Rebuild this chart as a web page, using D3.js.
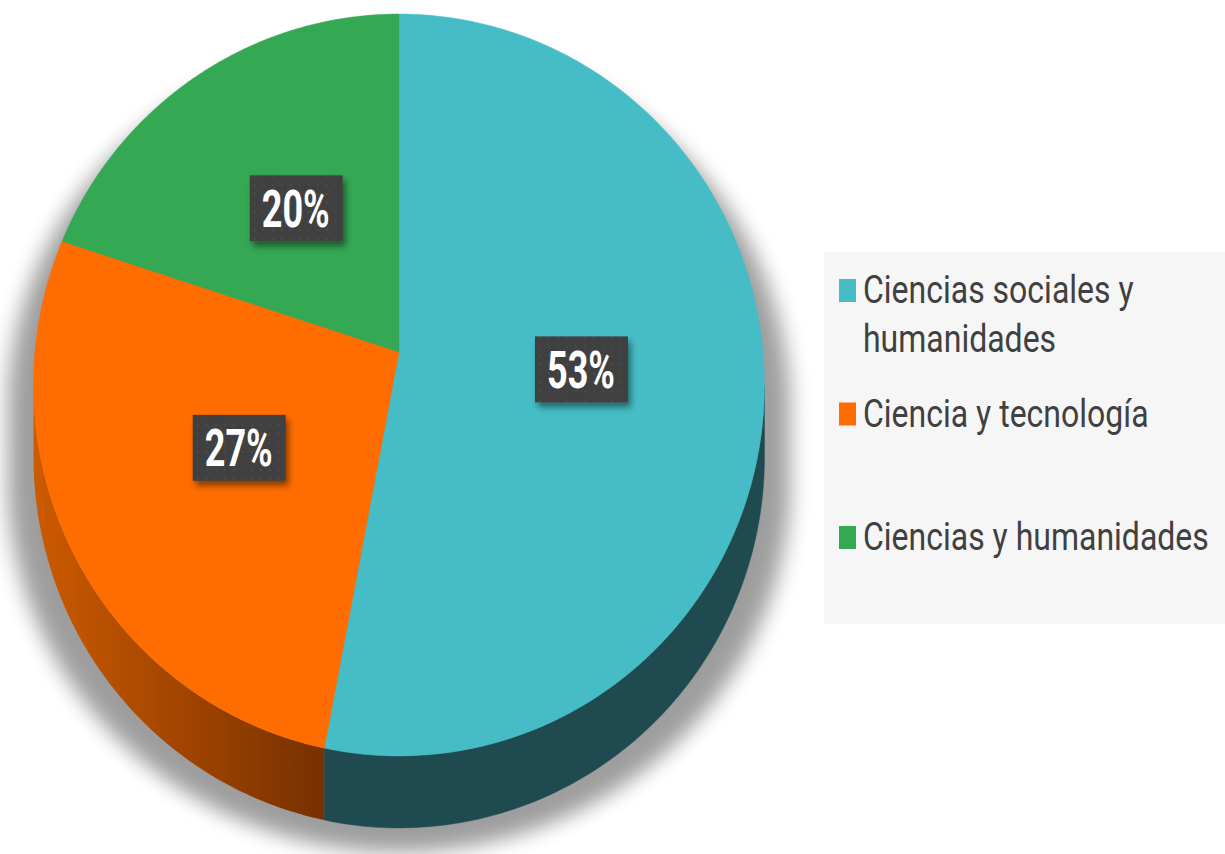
<!DOCTYPE html>
<html>
<head>
<meta charset="utf-8">
<script src="https://cdn.jsdelivr.net/npm/d3@7"></script>
<style>
  html, body { margin: 0; padding: 0; background: #fff; }
  svg { display: block; }
</style>
</head>
<body>
<svg id="chart"></svg>
<script>
// Chart data
const categories = ["Ciencias sociales y humanidades", "Ciencia y tecnología", "Ciencias y humanidades"];
const values = [53, 27, 20];
const palette = ["#46bdc6", "#ff6d01", "#34a853"];

const W = 1225, H = 854;

// 3D pie geometry (perspective-tilted disc)
const cx = 399, cy = 352;
const A = 364, B = 368, k = 0.0889;
const depth = 72;

const svg = d3.select("#chart").attr("width", W).attr("height", H);
const defs = svg.append("defs");

const color = d3.scaleOrdinal().domain(categories).range(palette);
const sideColor = d3.scaleOrdinal().domain(categories).range(["#1e4a50", "#a04600", "#1f5e30"]);

// rim point at angle t (clockwise from 12 o'clock), radius fraction r, drop dz
function proj(t, r, dz) {
  const u = r * Math.sin(t), v = -r * Math.cos(t);
  const w = 1 - k * v;
  return [cx + (A * u) / w, cy + (B * v) / w + (dz || 0)];
}

function rim(a0, a1, dz) {
  const n = Math.max(2, Math.ceil((a1 - a0) / 0.01));
  return d3.range(n + 1).map((i) => proj(a0 + ((a1 - a0) * i) / n, 1, dz));
}

const pie = d3.pie().sort(null).value((d) => d)(values);

// silhouette angles (right-most and left-most rim points)
const probe = d3.range(0, 2 * Math.PI, 0.002);
const tRight = probe[d3.maxIndex(probe, (t) => proj(t, 1)[0])];
const tLeft = probe[d3.minIndex(probe, (t) => proj(t, 1)[0])];

const line = d3.line();

// shadow
const shadowF = defs.append("filter").attr("id", "pieShadow")
  .attr("x", "-20%").attr("y", "-20%").attr("width", "140%").attr("height", "140%");
shadowF.append("feGaussianBlur").attr("stdDeviation", 10);

const shadow = svg.append("g")
  .attr("filter", "url(#pieShadow)")
  .attr("transform", `translate(${cx},${cy + 24}) scale(1.07,1) translate(${-cx},${-cy})`)
  .attr("fill", "#000").attr("opacity", 0.38);
shadow.append("path").attr("d", line(rim(0, 2 * Math.PI, 0)) + "Z");
shadow.append("path").attr("d", line(rim(0, 2 * Math.PI, depth)) + "Z");
shadow.append("path").attr("d", line(rim(tRight, tLeft, 0).concat(rim(tRight, tLeft, depth).reverse())) + "Z");

// side gradients
const gradOrange = defs.append("linearGradient").attr("id", "sideOrange")
  .attr("gradientUnits", "userSpaceOnUse").attr("x1", 35).attr("x2", 325).attr("y1", 0).attr("y2", 0);
gradOrange.append("stop").attr("offset", 0).attr("stop-color", "#cc5a00");
gradOrange.append("stop").attr("offset", 1).attr("stop-color", "#773000");

// sides
const sides = svg.append("g");
pie.forEach((p, i) => {
  const a0 = Math.max(p.startAngle, tRight);
  const a1 = Math.min(p.endAngle, tLeft);
  if (a1 <= a0) return;
  const pts = rim(a0, a1, 0).concat(rim(a0, a1, depth).reverse());
  sides.append("path")
    .attr("d", line(pts) + "Z")
    .attr("fill", i === 1 ? "url(#sideOrange)" : sideColor(categories[i]))
    .attr("stroke", i === 1 ? "none" : sideColor(categories[i]))
    .attr("stroke-width", 0.5);
});

// top faces
svg.append("g")
  .selectAll("path")
  .data(pie)
  .join("path")
  .attr("d", (p) => line([[cx, cy]].concat(rim(p.startAngle, p.endAngle, 0))) + "Z")
  .attr("fill", (p, i) => color(categories[i]))
  .attr("stroke", (p, i) => color(categories[i]))
  .attr("stroke-width", 0.5);

// label boxes
const dots = defs.append("pattern").attr("id", "dots")
  .attr("patternUnits", "userSpaceOnUse").attr("width", 9).attr("height", 9);
dots.append("rect").attr("width", 9).attr("height", 9).attr("fill", "#404040");
dots.append("rect").attr("x", 3).attr("y", 3).attr("width", 2).attr("height", 2).attr("fill", "#4b4b4b");

const boxShadow = defs.append("filter").attr("id", "boxShadow")
  .attr("x", "-20%").attr("y", "-20%").attr("width", "150%").attr("height", "150%");
boxShadow.append("feDropShadow").attr("dx", 3).attr("dy", 5).attr("stdDeviation", 3)
  .attr("flood-color", "#000").attr("flood-opacity", 0.45);

const fmt = d3.format(".0%");
const total = d3.sum(values);
const labels = svg.append("g")
  .selectAll("g")
  .data(pie)
  .join("g")
  .attr("transform", (p) => {
    const [x, y] = proj((p.startAngle + p.endAngle) / 2, 0.5, 0);
    return `translate(${x},${y})`;
  });
labels.append("rect")
  .attr("x", -46).attr("y", -33).attr("width", 93).attr("height", 66)
  .attr("fill", "url(#dots)")
  .attr("filter", "url(#boxShadow)");
labels.append("text")
  .attr("transform", "scale(0.8,1.16)")
  .attr("text-anchor", "middle")
  .attr("y", 16)
  .attr("fill", "#fff")
  .attr("font-family", "Roboto, sans-serif")
  .attr("font-weight", "bold")
  .attr("font-size", 45)
  .text((p) => fmt(p.value / total));

// legend
svg.append("rect")
  .attr("x", 824).attr("y", 252).attr("width", 401).attr("height", 372)
  .attr("fill", "#f6f6f6");

const legendY = d3.scaleLinear().domain([0, 1]).range([303, 426.5]);
const legend = svg.append("g")
  .selectAll("g")
  .data(categories)
  .join("g")
  .attr("transform", (d, i) => `translate(0,${legendY(i)})`);
legend.append("rect")
  .attr("x", 839).attr("y", -24).attr("width", 17).attr("height", 23)
  .attr("fill", (d) => color(d));

legend.each(function (d) {
  const g = d3.select(this);
  const text = g.append("text")
    .attr("transform", "scale(1,1.22)")
    .attr("font-family", "Roboto, sans-serif")
    .attr("font-size", 32)
    .attr("fill", "#404040");
  // wrap words to the legend width
  const words = d.split(" ");
  let lineNo = 0;
  let tspan = text.append("tspan").attr("x", 863).attr("y", 0);
  let cur = [];
  words.forEach((word) => {
    cur.push(word);
    tspan.text(cur.join(" "));
    if (tspan.node().getComputedTextLength() > 355 && cur.length > 1) {
      cur.pop();
      tspan.text(cur.join(" "));
      cur = [word];
      lineNo++;
      tspan = text.append("tspan").attr("x", 863).attr("y", (lineNo * 49) / 1.22).text(word);
    }
  });
});
</script>
</body>
</html>
